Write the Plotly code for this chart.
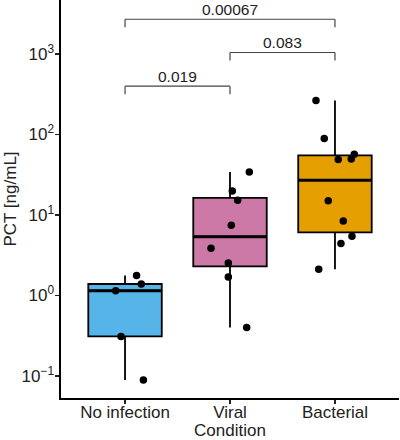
import numpy as np
import plotly.graph_objects as go

# ---------------- data ----------------
categories = ["No infection", "Viral", "Bacterial"]
pct_no_infection = [0.089, 0.31, 1.15, 1.39, 1.77]
pct_viral = [0.40, 1.70, 2.54, 3.87, 7.47, 15.3, 19.9, 34.3]
pct_bacterial = [2.12, 4.43, 5.45, 8.45, 15.0, 48.9, 49.8, 56.9, 89.0, 264.0]

# horizontal jitter of each point (category units), same order as values
jitter_no_infection = [0.175, -0.038, -0.089, 0.155, 0.11]
jitter_viral = [0.159, -0.016, -0.016, -0.181, 0.012, 0.073, 0.022, 0.184]
jitter_bacterial = [-0.155, 0.057, 0.162, 0.079, -0.064, 0.031, 0.155, 0.184, -0.102, -0.181]

comparison_pairs = [(0, 1), (1, 2), (0, 2)]
comparison_pvalues = ["0.019", "0.083", "0.00067"]

y_tick_exponents = [-1, 0, 1, 2, 3]

# ---------------- styles / positions ----------------
fill_colors = ["#56B4E9", "#CC79A7", "#E69F00"]
bracket_levels_log = [2.600, 3.019, 3.432]
bracket_drop_log = 0.10
box_width = 0.70
font_family = "Liberation Sans, Arial, sans-serif"

groups = [pct_no_infection, pct_viral, pct_bacterial]
jitters = [jitter_no_infection, jitter_viral, jitter_bacterial]

fig = go.Figure()

for i, (vals, jit) in enumerate(zip(groups, jitters)):
    lv = np.log10(np.array(vals, dtype=float))
    q1, med, q3 = np.percentile(lv, [25, 50, 75])
    iqr = q3 - q1
    lo = lv[lv >= q1 - 1.5 * iqr].min()
    hi = lv[lv <= q3 + 1.5 * iqr].max()
    fig.add_trace(go.Box(
        x=[i], q1=[10 ** q1], median=[10 ** med], q3=[10 ** q3],
        lowerfence=[10 ** lo], upperfence=[10 ** hi],
        width=box_width, whiskerwidth=0,
        fillcolor=fill_colors[i],
        line=dict(color="black", width=1.8),
        hoverinfo="skip",
    ))
    # thicker median bar
    fig.add_trace(go.Scatter(
        x=[i - box_width / 2, i + box_width / 2], y=[10 ** med, 10 ** med],
        mode="lines", line=dict(color="black", width=3), hoverinfo="skip",
    ))
    fig.add_trace(go.Scatter(
        x=[i + j for j in jit], y=vals, mode="markers",
        marker=dict(color="black", size=7.5), hoverinfo="skip",
    ))

# significance brackets (shapes take data values, annotations take log10 on log axes)
for (a, b), p, lvl in zip(comparison_pairs, comparison_pvalues, bracket_levels_log):
    line = dict(color="#444444", width=1.2)
    top = 10 ** lvl
    foot = 10 ** (lvl - bracket_drop_log)
    fig.add_shape(type="line", xref="x", yref="y", x0=a, x1=b, y0=top, y1=top, line=line)
    fig.add_shape(type="line", xref="x", yref="y", x0=a, x1=a, y0=top, y1=foot, line=line)
    fig.add_shape(type="line", xref="x", yref="y", x0=b, x1=b, y0=top, y1=foot, line=line)
    fig.add_annotation(x=(a + b) / 2, y=lvl, xref="x", yref="y", text=p,
                       showarrow=False, yanchor="bottom", yshift=-1,
                       font=dict(size=15.5, color="#222222", family=font_family))

fig.update_layout(
    width=400, height=440,
    margin=dict(l=61, r=1, t=0, b=42),
    template="none",
    plot_bgcolor="white", paper_bgcolor="white",
    showlegend=False,
    font=dict(family=font_family, size=17, color="#222222"),
    xaxis=dict(
        range=[-0.61, 2.61], tickvals=[0, 1, 2], ticktext=categories,
        showline=True, linecolor="black", linewidth=1.6,
        ticks="outside", ticklen=4, tickwidth=1.5, tickcolor="#222222",
        ticklabelstandoff=-6,
        showgrid=False, zeroline=False, automargin=False,
        title=dict(text="Condition", font=dict(size=17)),
    ),
    yaxis=dict(
        type="log", range=[-1.273, 3.671],
        tickvals=[10.0 ** e for e in y_tick_exponents],
        ticktext=["10<sup>%s</sup>" % str(e).replace("-", "\u2212") for e in y_tick_exponents],
        showline=True, linecolor="black", linewidth=1.6,
        ticks="outside", ticklen=4, tickwidth=1.5, tickcolor="#222222",
        ticklabelstandoff=-2,
        showgrid=False, zeroline=False, automargin=False,
        title=dict(text="PCT [ng/mL]", font=dict(size=17)),
    ),
)

fig.write_html("out.html", config={"displayModeBar": False, "staticPlot": True},
               post_script="document.body.style.margin='0';document.body.style.padding='0';")
